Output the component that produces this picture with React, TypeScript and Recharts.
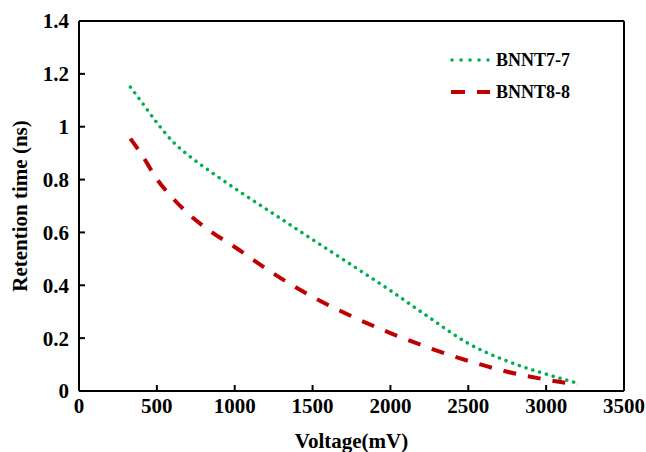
import { LineChart, Line, XAxis, YAxis, Legend, ReferenceLine } from 'recharts'

const voltage = [330, 400, 500, 600, 700, 850, 1000, 1250, 1500, 1750, 2000, 2250, 2500, 2750, 3000, 3200]
const bnnt77 = [1.15, 1.095, 1.015, 0.945, 0.893, 0.828, 0.767, 0.67, 0.573, 0.477, 0.38, 0.278, 0.18, 0.113, 0.064, 0.03]
const bnnt88 = [0.955, 0.897, 0.802, 0.731, 0.672, 0.602, 0.545, 0.444, 0.356, 0.283, 0.219, 0.163, 0.114, 0.073, 0.043, 0.025]
const xTicks = [0, 500, 1000, 1500, 2000, 2500, 3000, 3500]
const yTicks = [0, 0.2, 0.4, 0.6, 0.8, 1, 1.2, 1.4]

const font = '"Liberation Serif", "Times New Roman", serif'

const chartData = voltage.map((v, i) => ({
  voltage: v,
  a: bnnt77[i],
  b: bnnt88[i]
}))

const tickStyle = { fontFamily: font, fontWeight: 'bold', fontSize: 21, fill: '#000' }

function LegendBox() {
  const row = { display: 'flex', alignItems: 'center', height: 32 }
  const text = { fontFamily: font, fontWeight: 'bold', fontSize: 18, color: '#000', marginLeft: 6 }
  return (
    <div>
      <div style={row}>
        <svg width={40} height={10}>
          <line x1={2} y1={5} x2={38} y2={5} stroke="#00B050" strokeWidth={3.5} strokeDasharray="0.1 8.9" strokeLinecap="round" />
        </svg>
        <span style={text}>BNNT7-7</span>
      </div>
      <div style={row}>
        <svg width={40} height={10}>
          <line x1={1} y1={5} x2={40} y2={5} stroke="#C00000" strokeWidth={4} strokeDasharray="14 12" />
        </svg>
        <span style={text}>BNNT8-8</span>
      </div>
    </div>
  )
}

export default function App() {
  return (
    <div style={{ position: 'absolute', left: 0, top: 0, background: '#fff' }}>
      <LineChart width={646} height={452} data={chartData} margin={{ top: 21, right: 22, left: 0, bottom: 0 }}>
        <XAxis
          dataKey="voltage"
          type="number"
          domain={[0, 3500]}
          ticks={xTicks}
          height={61}
          axisLine={{ stroke: '#000', strokeWidth: 2 }}
          tickLine={{ stroke: '#000', strokeWidth: 2 }}
          tickSize={-6}
          tickMargin={13}
          tick={tickStyle}
          label={{ value: 'Voltage(mV)', position: 'insideBottom', offset: 4, style: tickStyle }}
        />
        <YAxis
          type="number"
          domain={[0, 1.4]}
          ticks={yTicks}
          width={79}
          axisLine={{ stroke: '#000', strokeWidth: 2 }}
          tickLine={{ stroke: '#000', strokeWidth: 2 }}
          tickSize={-6}
          tickMargin={16}
          tick={tickStyle}
          label={{ value: 'Retention time (ns)', angle: -90, position: 'insideLeft', offset: 20, style: { ...tickStyle, textAnchor: 'middle' } }}
        />
        <ReferenceLine y={1.4} stroke="#000" strokeWidth={2} />
        <ReferenceLine x={3500} stroke="#000" strokeWidth={2} />
        <Legend
          layout="horizontal"
          verticalAlign="middle"
          align="center"
          wrapperStyle={{ left: 450, top: 44, width: 160, right: 'auto', bottom: 'auto' }}
          content={() => <LegendBox />}
        />
        <Line
          type="monotone"
          dataKey="a"
          stroke="#00B050"
          strokeWidth={3.5}
          strokeDasharray="0.1 7"
          strokeLinecap="round"
          dot={false}
          isAnimationActive={false}
        />
        <Line
          type="monotone"
          dataKey="b"
          stroke="#C00000"
          strokeWidth={4}
          strokeDasharray="13 12"
          dot={false}
          isAnimationActive={false}
        />
      </LineChart>
    </div>
  )
}
